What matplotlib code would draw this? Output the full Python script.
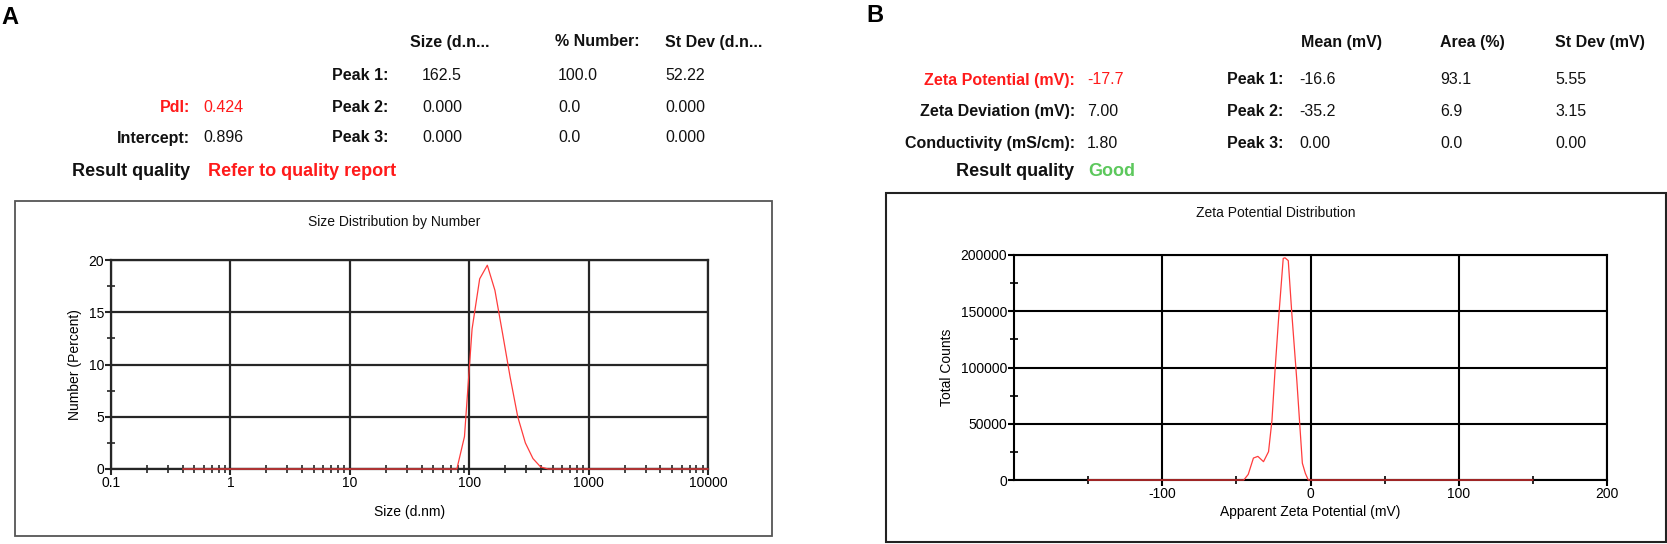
import matplotlib
matplotlib.use('Agg')
import matplotlib.pyplot as plt
import matplotlib.ticker as ticker
from matplotlib.patches import Rectangle

plt.rcParams['font.family'] = ['Liberation Sans', 'DejaVu Sans']

W, H = 1667, 544

# panel A: size distribution by number
size_nm = [0.4, 78.82, 91.28, 105.7, 122.4, 141.8, 164.2, 190.1, 220.2, 255.0,
           295.3, 342.0, 396.1, 458.7, 10000]
number_pct = [0, 0, 3.1, 13.4, 18.2, 19.5, 17.1, 13.0, 8.8, 5.0,
              2.5, 1.0, 0.2, 0, 0]
size_ticks = [0.1, 1, 10, 100, 1000, 10000]
number_ticks = [0, 5, 10, 15, 20]

# panel B: zeta potential distribution
zeta_mv = [-150, -45, -42, -38.5, -35.5, -31.7, -28.3, -26.0, -23.8, -21.6,
           -18.4, -17.2, -15.0, -12.6, -9.2, -5.5, -3.5, -1.5, 150]
total_counts = [0, 0, 5000, 19500, 21000, 16300, 25200, 53000, 100000, 142000,
                197000, 197500, 195000, 148000, 88000, 15000, 6000, 0, 0]
zeta_ticks = [-100, 0, 100, 200]
zeta_minor = [-150, -50, 50, 150]
count_ticks = [0, 50000, 100000, 150000, 200000]

# header tables
size_cols = ['Size (d.n...', '% Number:', 'St Dev (d.n...']
size_peaks = [['162.5', '100.0', '52.22'],
              ['0.000', '0.0', '0.000'],
              ['0.000', '0.0', '0.000']]
zeta_cols = ['Mean (mV)', 'Area (%)', 'St Dev (mV)']
zeta_peaks = [['-16.6', '93.1', '5.55'],
              ['-35.2', '6.9', '3.15'],
              ['0.00', '0.0', '0.00']]

RED = '#ff1a1a'
GREEN = '#5cc85c'
LINE = '#ff3c3c'

fig = plt.figure(figsize=(W / 100, H / 100), dpi=100)


def txt(x, y, s, ha='left', size=11.5, bold=False, color='#111111'):
    fig.text(x / W, 1 - y / H, s, ha=ha, va='center', fontsize=size,
             fontweight='bold' if bold else 'normal', color=color)


def box(x0, y0, x1, y1, color, lw):
    fig.add_artist(Rectangle((x0 / W, 1 - y1 / H), (x1 - x0) / W, (y1 - y0) / H,
                             transform=fig.transFigure, fill=False, ec=color, lw=lw))


# ---- header A ----
txt(1, 17, 'A', size=17, bold=True, color='black')
for x, s in zip([410, 555, 665], size_cols):
    txt(x, 42, s, bold=True)
for i, row in enumerate(size_peaks):
    y = [75, 107, 138][i]
    txt(388, y, 'Peak %d:' % (i + 1), ha='right', bold=True)
    for x, s in zip([422, 558, 665], row):
        txt(x, y, s)
txt(190, 107, 'PdI:', ha='right', bold=True, color=RED)
txt(203, 107, '0.424', color=RED)
txt(190, 138, 'Intercept:', ha='right', bold=True)
txt(203, 138, '0.896')
txt(72, 172, 'Result quality', size=13, bold=True)
txt(208, 172, 'Refer to quality report', size=13, bold=True, color=RED)

# ---- header B ----
txt(866, 15, 'B', size=17, bold=True, color='black')
for x, s in zip([1301, 1440, 1555], zeta_cols):
    txt(x, 43, s, bold=True)
txt(1075, 80, 'Zeta Potential (mV):', ha='right', bold=True, color=RED)
txt(1087, 80, '-17.7', color=RED)
txt(1075, 112, 'Zeta Deviation (mV):', ha='right', bold=True)
txt(1087, 112, '7.00')
txt(1075, 143, 'Conductivity (mS/cm):', ha='right', bold=True)
txt(1087, 143, '1.80')
for i, row in enumerate(zeta_peaks):
    y = [80, 112, 143][i]
    txt(1283, y, 'Peak %d:' % (i + 1), ha='right', bold=True)
    for x, s in zip([1299, 1440, 1555], row):
        txt(x, y, s)
txt(1074, 171, 'Result quality', ha='right', size=13, bold=True)
txt(1088, 171, 'Good', size=13, bold=True, color=GREEN)

# ---- frames ----
box(15, 201, 772, 536, '#555555', 1.3)
box(886, 193, 1666, 542, '#222222', 1.5)
txt(394, 222, 'Size Distribution by Number', ha='center', size=10)
txt(1276, 213, 'Zeta Potential Distribution', ha='center', size=10)

plain = ticker.FuncFormatter(lambda v, p: '%g' % v)

# ---- chart A ----
axA = fig.add_axes([111 / W, 1 - 469 / H, 597 / W, 209 / H])
axA.plot(size_nm, number_pct, color=LINE, lw=0.9, zorder=5, clip_on=False)
axA.set_xscale('log')
axA.set_xlim(0.1, 10000)
axA.set_ylim(0, 20)
axA.set_xticks(size_ticks)
axA.xaxis.set_minor_locator(ticker.LogLocator(base=10, subs=range(2, 10), numticks=20))
axA.xaxis.set_minor_formatter(ticker.NullFormatter())
axA.xaxis.set_major_formatter(plain)
axA.set_yticks(number_ticks)
axA.yaxis.set_minor_locator(ticker.MultipleLocator(2.5))
axA.grid(True, which='major', color='#262626', lw=1.6)
for sp in axA.spines.values():
    sp.set_color('#262626')
    sp.set_linewidth(1.6)
axA.tick_params(which='major', direction='out', length=4, width=1.5, labelsize=10, pad=1, color='#262626')
axA.tick_params(which='minor', direction='inout', length=5.5, width=1.2, color='#262626')
axA.set_ylabel('Number (Percent)', fontsize=10, va='center')
axA.yaxis.set_label_coords((75 - 111) / 597, 0.5)
axA.set_xlabel('Size (d.nm)', fontsize=10, va='center')
axA.xaxis.set_label_coords(0.5, -(512 - 469) / 209)

# ---- chart B ----
axB = fig.add_axes([1014 / W, 1 - 480 / H, 593 / W, 225 / H])
axB.plot(zeta_mv, total_counts, color=LINE, lw=0.9, zorder=5, clip_on=False)
axB.set_xlim(-200, 200)
axB.set_ylim(0, 200000)
axB.set_xticks(zeta_ticks)
axB.set_xticks(zeta_minor, minor=True)
axB.xaxis.set_major_formatter(plain)
axB.set_yticks(count_ticks)
axB.yaxis.set_minor_locator(ticker.MultipleLocator(25000))
axB.yaxis.set_major_formatter(ticker.FuncFormatter(lambda v, p: '%d' % v))
axB.grid(True, which='major', color='black', lw=1.5)
for sp in axB.spines.values():
    sp.set_color('black')
    sp.set_linewidth(1.5)
axB.tick_params(which='major', direction='out', length=4, width=1.5, labelsize=10, pad=1)
axB.tick_params(which='minor', direction='inout', length=5.5, width=1.2)
axB.set_ylabel('Total Counts', fontsize=10, va='center')
axB.yaxis.set_label_coords((947 - 1014) / 593, 0.5)
axB.set_xlabel('Apparent Zeta Potential (mV)', fontsize=10, va='center')
axB.xaxis.set_label_coords(0.5, -(512 - 480) / 225)

fig.savefig('out.png', dpi=100)
